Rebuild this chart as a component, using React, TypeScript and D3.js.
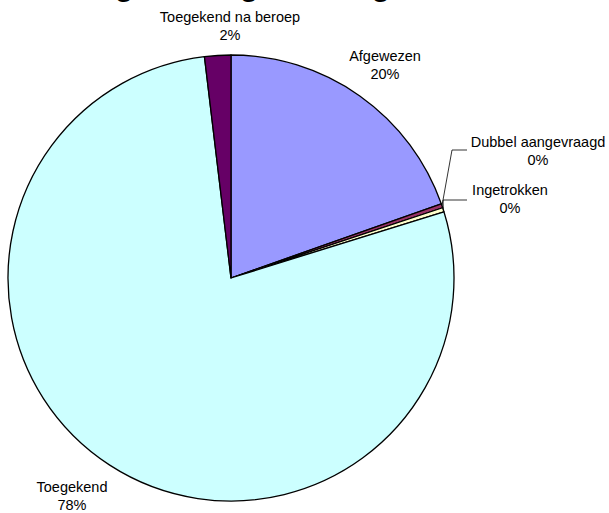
import * as d3 from 'd3';
import { useEffect, useRef } from 'react';

// slice data, clockwise from 12 o'clock
const categories = ['Afgewezen', 'Dubbel aangevraagd', 'Ingetrokken', 'Toegekend', 'Toegekend na beroep'];
const counts = [196, 3, 3, 779, 19];
const colors = ['#9999FF', '#993366', '#FFFFCC', '#CCFFFF', '#660066'];
const percentLabels = ['20%', '0%', '0%', '78%', '2%'];
const title = 'Afhandeling toetsingsaanvragen 2004';

export default function App() {
  const svgRef = useRef<SVGSVGElement>(null);
  const width = 609;
  const height = 513;
  const cx = 231;
  const cy = 278;
  const radius = 223;

  useEffect(() => {
    const svg = d3.select(svgRef.current);
    svg.selectAll('*').remove();

    const data = categories.map((c, i) => ({ name: c, value: counts[i], color: colors[i], pct: percentLabels[i] }));
    const pie = d3.pie<any>().sort(null).value((d) => d.value);
    const arcs = pie(data);
    const arc = d3.arc<any>().innerRadius(0).outerRadius(radius);

    // title, mostly above the visible area
    svg
      .append('text')
      .attr('x', 230)
      .attr('y', -4)
      .attr('text-anchor', 'middle')
      .attr('font-family', 'Arial, "Liberation Sans", sans-serif')
      .attr('font-weight', 'bold')
      .attr('font-size', 30)
      .text(title);

    const g = svg.append('g').attr('transform', `translate(${cx},${cy})`);
    g.selectAll('path')
      .data(arcs)
      .join('path')
      .attr('d', arc)
      .attr('fill', (d) => d.data.color)
      .attr('stroke', '#000')
      .attr('stroke-width', 1.3)
      .attr('stroke-linejoin', 'round');

    const font = 'Arial, "Liberation Sans", sans-serif';
    // label anchor points (centre of the two-line block)
    const labelPos: Record<string, [number, number]> = {
      Afgewezen: [385, 56],
      'Dubbel aangevraagd': [538, 142],
      Ingetrokken: [510, 190],
      Toegekend: [72, 487],
      'Toegekend na beroep': [230, 17]
    };

    // leader lines for the tiny slices
    const outer = d3.arc<any>().innerRadius(radius).outerRadius(radius);
    const leaders: Record<string, [number, number][]> = {
      'Dubbel aangevraagd': [[452, 150], [467, 150]],
      Ingetrokken: [[443, 200], [467, 200]]
    };
    arcs.forEach((a) => {
      const pts = leaders[a.data.name];
      if (!pts) return;
      const [ox, oy] = outer.centroid(a);
      const line = d3.line();
      svg
        .append('path')
        .attr('d', line([[cx + ox, cy + oy], ...pts]))
        .attr('fill', 'none')
        .attr('stroke', '#000')
        .attr('stroke-width', 0.8);
    });

    arcs.forEach((a) => {
      const [lx, ly] = labelPos[a.data.name];
      const t = svg
        .append('text')
        .attr('text-anchor', 'middle')
        .attr('font-family', font)
        .attr('font-size', 14.5)
        .attr('fill', '#000');
      t.append('tspan').attr('x', lx).attr('y', ly + 5).text(a.data.name);
      t.append('tspan').attr('x', lx).attr('y', ly + 23).text(a.data.pct);
    });
  });

  return (
    <svg
      ref={svgRef}
      width={width}
      height={height}
      viewBox={`0 0 ${width} ${height}`}
      style={{ position: 'absolute', left: 0, top: 0, background: '#fff' }}
    ></svg>
  );
}
